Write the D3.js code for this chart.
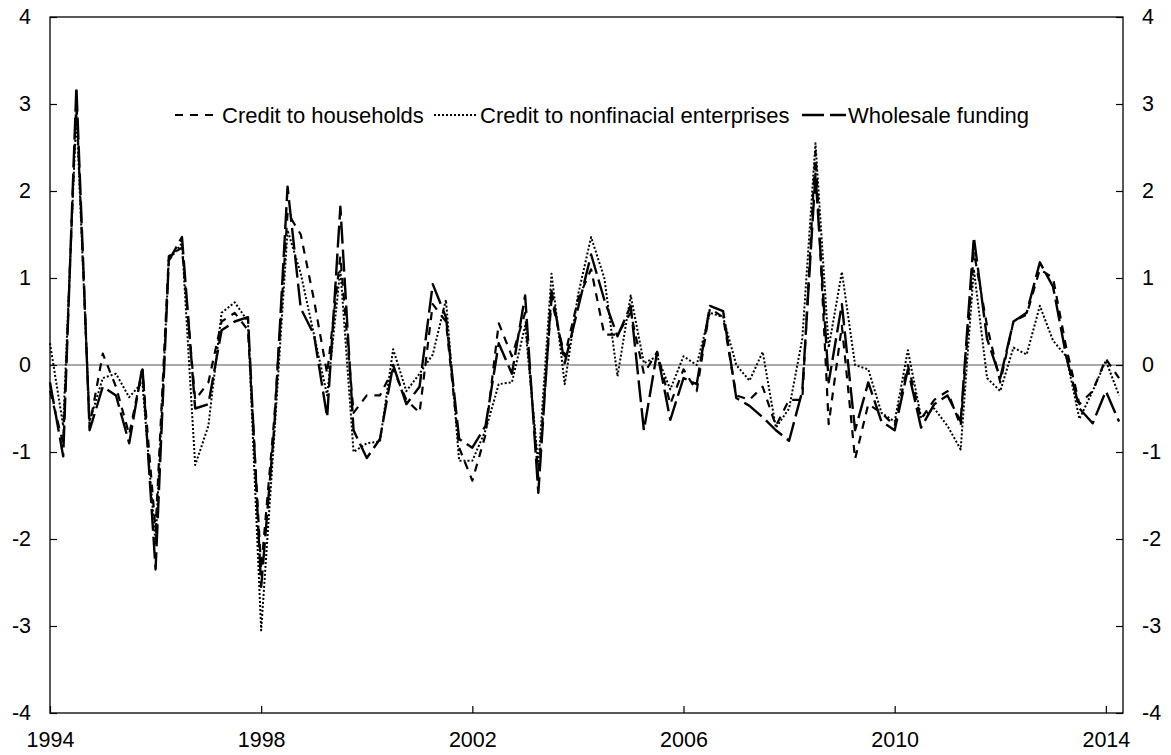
<!DOCTYPE html>
<html>
<head>
<meta charset="utf-8">
<script src="https://cdn.jsdelivr.net/npm/d3@7"></script>
<style>
  html, body { margin: 0; padding: 0; background: #fff; }
  svg { display: block; font-family: "Liberation Sans", Arial, sans-serif; }
</style>
</head>
<body>
<svg id="chart" width="1171" height="755"></svg>
<script>
// ---- Data (quarterly, 1994Q1 - 2014Q2) ----
const startYear = 1994;
const nQuarters = 82;
const quarters = d3.range(nQuarters).map(i => (startYear + Math.floor(i / 4)) + "Q" + (i % 4 + 1));

const households = [
  -0.3, -0.9, 3.05, -0.7, 0.13, -0.25, -0.8, -0.05,
  -1.9, 1.25, 1.35, -0.4, -0.2, 0.5, 0.6, 0.4,
  -2.35, -0.6, 1.75, 1.5, 0.75, -0.1, 1.25, -0.55,
  -0.35, -0.35, -0.05, -0.4, -0.55, 0.7, 0.5, -0.95,
  -1.33, -0.8, 0.48, 0.1, 0.6, -1.3, 0.75, 0.1,
  0.75, 1.1, 0.35, 0.35, 0.6, -0.1, 0.15, -0.45,
  -0.05, -0.3, 0.65, 0.55, -0.35, -0.4, -0.25, -0.7,
  -0.4, -0.4, 2.45, -0.68, 0.45, -1.08, -0.45, -0.55,
  -0.7, 0.0, -0.62, -0.4, -0.3, -0.7, 1.3, 0.45,
  -0.2, 0.5, 0.58, 1.1, 1.0, 0.2, -0.45, -0.3,
  0.07, -0.15
];
const enterprises = [
  0.25, -0.7, 2.9, -0.65, -0.15, -0.1, -0.37, -0.2,
  -2.05, 1.2, 1.4, -1.15, -0.7, 0.6, 0.72, 0.5,
  -3.05, -0.8, 1.55, 1.05, 0.35, -0.35, 1.1, -1.0,
  -0.9, -0.88, 0.18, -0.3, -0.1, 0.12, 0.75, -1.1,
  -1.1, -0.75, -0.22, -0.2, 0.45, -1.15, 1.05, -0.22,
  0.8, 1.47, 1.0, -0.13, 0.8, 0.02, 0.1, -0.28,
  0.1, 0.0, 0.6, 0.55, 0.0, -0.18, 0.15, -0.72,
  -0.5, 0.3, 2.55, 0.2, 1.07, 0.0, -0.05, -0.55,
  -0.65, 0.17, -0.6, -0.5, -0.7, -0.97, 1.1, -0.15,
  -0.3, 0.2, 0.12, 0.68, 0.28, 0.1, -0.62, -0.3,
  0.05, -0.35
];
const wholesale = [
  -0.2, -1.05, 3.2, -0.75, -0.25, -0.35, -0.9, -0.02,
  -2.35, 1.2, 1.47, -0.5, -0.45, 0.4, 0.5, 0.55,
  -2.55, -0.7, 2.05, 0.65, 0.35, -0.6, 1.82, -0.75,
  -1.07, -0.85, 0.0, -0.45, -0.25, 0.93, 0.55, -0.85,
  -0.95, -0.7, 0.25, -0.1, 0.8, -1.47, 0.85, 0.02,
  0.65, 1.27, 0.75, 0.33, 0.68, -0.75, 0.15, -0.63,
  -0.15, -0.22, 0.68, 0.62, -0.38, -0.47, -0.6, -0.75,
  -0.87, -0.3, 2.2, -0.2, 0.7, -0.75, -0.2, -0.65,
  -0.75, -0.05, -0.72, -0.45, -0.35, -0.65, 1.47, 0.3,
  -0.15, 0.5, 0.6, 1.18, 0.9, 0.1, -0.5, -0.67,
  -0.3, -0.65
];
const seriesNames = ["Credit to households", "Credit to nonfinacial enterprises", "Wholesale funding"];
const xTickLabels = ["1994", "1998", "2002", "2006", "2010", "2014"];
const yTicks = [-4, -3, -2, -1, 0, 1, 2, 3, 4];

// ---- Layout ----
const svg = d3.select("#chart");
const mLeft = 50, mRight = 1123, mTop = 17, mBottom = 713;

const x = d3.scaleLinear().domain([0, 81.3]).range([mLeft, mRight]);
const y = d3.scaleLinear().domain([-4, 4]).range([mBottom, mTop]);

const styles = [
  { dash: "8,7", width: 2.2 },
  { dash: "2,2", width: 2 },
  { dash: "22,6", width: 2.4 }
];
const series = [households, enterprises, wholesale];

// zero line
svg.append("line")
  .attr("x1", mLeft).attr("x2", mRight)
  .attr("y1", y(0)).attr("y2", y(0))
  .attr("stroke", "#555").attr("stroke-width", 1);

// series lines
const line = d3.line().x((d, i) => x(i)).y(d => y(d));
const plot = svg.append("g");
series.forEach((s, k) => {
  plot.append("path")
    .datum(s)
    .attr("d", line)
    .attr("fill", "none")
    .attr("stroke", "#000")
    .attr("stroke-width", styles[k].width)
    .attr("stroke-dasharray", styles[k].dash)
    .attr("stroke-linejoin", "round");
});

// axes
const fontSize = "21.5px";
const xTickIdx = xTickLabels.map((_, i) => i * 16);
const yFmt = d => String(d);   // plain hyphen-minus as in the original
const xAxis = d3.axisBottom(x).tickValues(xTickIdx)
  .tickFormat((d, i) => xTickLabels[i]).tickSize(-7).tickSizeOuter(0).tickPadding(19);
const yAxisL = d3.axisLeft(y).tickValues(yTicks).tickFormat(yFmt)
  .tickSize(-7).tickSizeOuter(0).tickPadding(19);
const yAxisR = d3.axisRight(y).tickValues(yTicks).tickFormat(yFmt)
  .tickSize(-7).tickSizeOuter(0).tickPadding(19);

function styleAxis(g) {
  g.select(".domain").remove();
  g.selectAll(".tick line").attr("stroke", "#000").attr("stroke-width", 1.2);
  g.selectAll(".tick text").attr("fill", "#000").style("font-size", fontSize)
    .style("font-family", '"Liberation Sans", Arial, sans-serif');
}
svg.append("g").attr("transform", `translate(0,${mBottom})`).call(xAxis).call(styleAxis);
svg.append("g").attr("transform", `translate(${mLeft},0)`).call(yAxisL).call(styleAxis);
svg.append("g").attr("transform", `translate(${mRight},0)`).call(yAxisR).call(styleAxis);

// frame
svg.append("rect")
  .attr("x", mLeft).attr("y", mTop)
  .attr("width", mRight - mLeft).attr("height", mBottom - mTop)
  .attr("fill", "none").attr("stroke", "#000").attr("stroke-width", 1.3);

// legend
const legend = [
  { sx: 175, ex: 218, tx: 222 },
  { sx: 434, ex: 476, tx: 480 },
  { sx: 802, ex: 846, tx: 848 }
];
const ly = 115;
legend.forEach((l, k) => {
  svg.append("line")
    .attr("x1", l.sx).attr("x2", l.ex).attr("y1", ly).attr("y2", ly)
    .attr("stroke", "#000").attr("stroke-width", styles[k].width)
    .attr("stroke-dasharray", styles[k].dash);
  svg.append("text")
    .attr("x", l.tx).attr("y", ly + 7.5)
    .style("font-size", "22px")
    .attr("fill", "#000")
    .text(seriesNames[k]);
});
</script>
</body>
</html>
